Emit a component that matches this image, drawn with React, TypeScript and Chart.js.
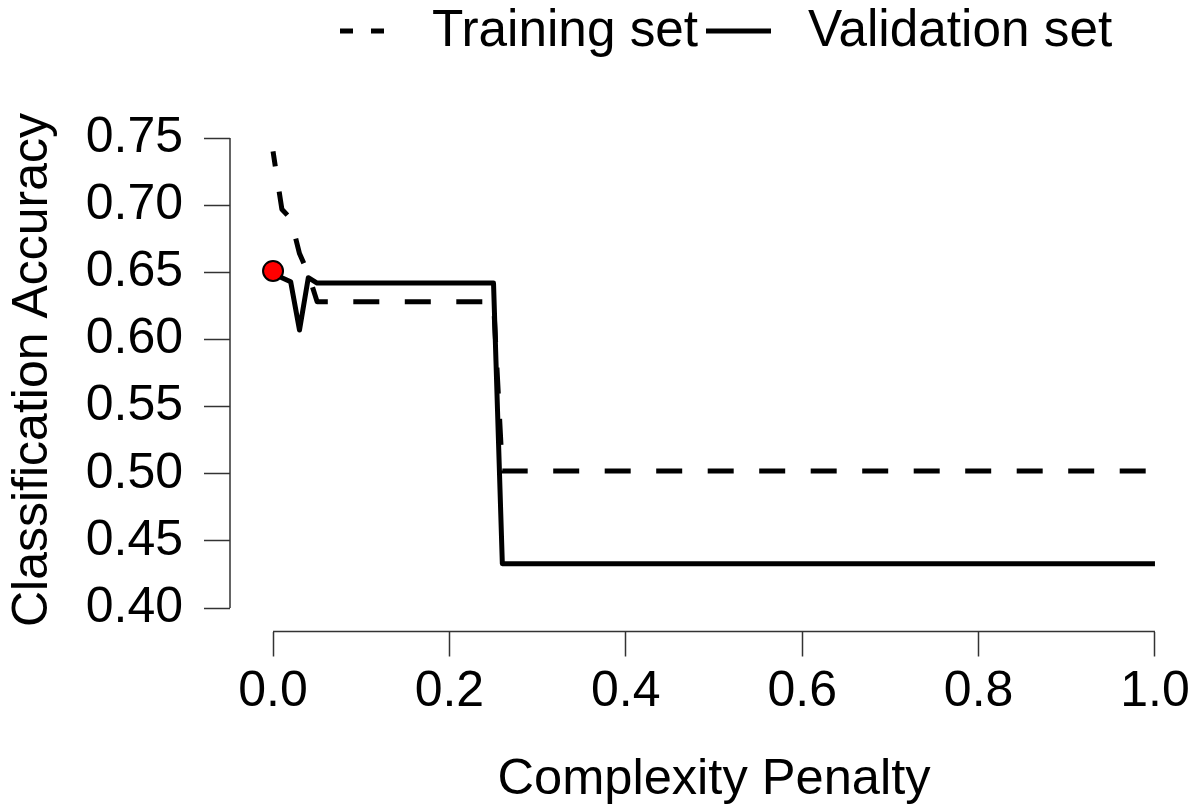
import React, { useEffect, useRef } from 'react';
import { Chart, registerables } from 'chart.js';

Chart.register(...registerables);

// ---- data ----
const penalty = [0, 0.01, 0.02, 0.03, 0.04, 0.05, 0.25, 0.26, 1.0];
const trainingAcc = [0.74, 0.697, 0.69, 0.664, 0.649, 0.628, 0.628, 0.502, 0.502];
const validationAcc = [0.651, 0.646, 0.643, 0.607, 0.646, 0.642, 0.642, 0.433, 0.433];
const bestPenalty = [0];
const bestAcc = [0.651];
const xTicks = [0, 0.2, 0.4, 0.6, 0.8, 1.0];
const yTicks = [0.4, 0.45, 0.5, 0.55, 0.6, 0.65, 0.7, 0.75];
const legendLabels = ['Training set', 'Validation set'];
const xTitle = 'Complexity Penalty';
const yTitle = 'Classification Accuracy';

const FAMILY = '"Liberation Sans", Arial, Helvetica, sans-serif';
const FONT_SIZE = 50;

const rAxesPlugin = {
  id: 'rAxes',
  afterDraw(chart: any) {
    const { ctx, chartArea } = chart;
    const xs = chart.scales.x;
    const ys = chart.scales.y;
    ctx.save();
    ctx.strokeStyle = '#333';
    ctx.lineWidth = 1.5;
    ctx.beginPath();
    ctx.moveTo(xs.getPixelForValue(xTicks[0]), chartArea.bottom);
    ctx.lineTo(xs.getPixelForValue(xTicks[xTicks.length - 1]), chartArea.bottom);
    ctx.moveTo(chartArea.left, ys.getPixelForValue(yTicks[0]));
    ctx.lineTo(chartArea.left, ys.getPixelForValue(yTicks[yTicks.length - 1]));
    ctx.stroke();

    // legend (R style, top)
    ctx.font = `51.3px ${FAMILY}`;
    ctx.fillStyle = '#000';
    ctx.textAlign = 'left';
    ctx.textBaseline = 'alphabetic';
    ctx.strokeStyle = '#000';
    ctx.lineWidth = 5;
    ctx.lineCap = 'butt';
    ctx.setLineDash([13, 18]);
    ctx.beginPath();
    ctx.moveTo(340, 31);
    ctx.lineTo(384, 31);
    ctx.stroke();
    ctx.setLineDash([]);
    ctx.fillText(legendLabels[0], 432, 46);
    ctx.beginPath();
    ctx.moveTo(706, 31);
    ctx.lineTo(771, 31);
    ctx.stroke();
    ctx.fillText(legendLabels[1], 808, 46);
    ctx.restore();
  },
};

const zeroPadding = (s: any) => {
  s.paddingLeft = 0;
  s.paddingRight = 0;
  s.paddingTop = 0;
  s.paddingBottom = 0;
};

export default function App() {
  const canvasRef = useRef<HTMLCanvasElement | null>(null);

  useEffect(() => {
    const canvas = canvasRef.current;
    if (!canvas) return;
    const font = { family: FAMILY, size: FONT_SIZE, lineHeight: 1 };
    const titleFont = { family: FAMILY, size: 50.6, lineHeight: 1 };
    const chart = new Chart(canvas, {
      type: 'line',
      data: {
        datasets: [
          {
            label: 'best',
            data: bestPenalty.map((x, i) => ({ x, y: bestAcc[i] })),
            showLine: false,
            pointRadius: 10,
            pointBackgroundColor: '#ff0000',
            pointBorderColor: '#000',
            pointBorderWidth: 2,
            order: 0,
          },
          {
            label: legendLabels[1],
            data: penalty.map((x, i) => ({ x, y: validationAcc[i] })),
            borderColor: '#000',
            borderWidth: 5,
            pointRadius: 0,
            tension: 0,
            borderJoinStyle: 'round',
            order: 1,
          },
          {
            label: legendLabels[0],
            data: penalty.map((x, i) => ({ x, y: trainingAcc[i] })),
            borderColor: '#000',
            borderWidth: 5,
            borderDash: [26, 25.5],
            borderDashOffset: 11,
            pointRadius: 0,
            tension: 0,
            borderJoinStyle: 'round',
            order: 2,
          },
        ],
      } as any,
      options: {
        responsive: false,
        animation: false,
        layout: { autoPadding: false, padding: { top: 108.5, left: 0, right: 0, bottom: 0 } },
        plugins: { legend: { display: false }, tooltip: { enabled: false } },
        scales: {
          x: {
            type: 'linear',
            min: -0.0488,
            max: 1.0488,
            afterBuildTicks: (s: any) => {
              s.ticks = xTicks.map((v) => ({ value: v }));
            },
            afterFit: (s: any) => {
              s.height = 175.5;
              zeroPadding(s);
            },
            border: { display: false },
            grid: {
              drawOnChartArea: false,
              drawTicks: true,
              tickLength: 25,
              tickColor: '#333',
              tickWidth: 1.5,
            },
            ticks: {
              color: '#000',
              font,
              padding: 11,
              maxRotation: 0,
              autoSkip: false,
              callback: (v: any) => Number(v).toFixed(1),
            },
            title: {
              display: true,
              text: xTitle,
              color: '#000',
              font: titleFont,
              padding: { top: 0, bottom: 1.5 },
            },
          },
          y: {
            min: 0.3825,
            max: 0.772,
            afterBuildTicks: (s: any) => {
              s.ticks = yTicks.map((v) => ({ value: v }));
            },
            afterFit: (s: any) => {
              s.width = 230;
              zeroPadding(s);
            },
            border: { display: false },
            grid: {
              drawOnChartArea: false,
              drawTicks: true,
              tickLength: 26,
              tickColor: '#333',
              tickWidth: 1.5,
            },
            ticks: {
              color: '#000',
              font,
              padding: 21,
              autoSkip: false,
              callback: (v: any) => Number(v).toFixed(2),
            },
            title: {
              display: true,
              text: yTitle,
              color: '#000',
              font,
              padding: { top: 8.5, bottom: 0 },
            },
          },
        },
      } as any,
      plugins: [rAxesPlugin],
    });
    return () => chart.destroy();
  }, []);

  return (
    <div style={{ position: 'absolute', left: 0, top: 0, width: 1198, height: 807, background: '#fff' }}>
      <canvas ref={canvasRef} width={1198} height={807} />
    </div>
  );
}
